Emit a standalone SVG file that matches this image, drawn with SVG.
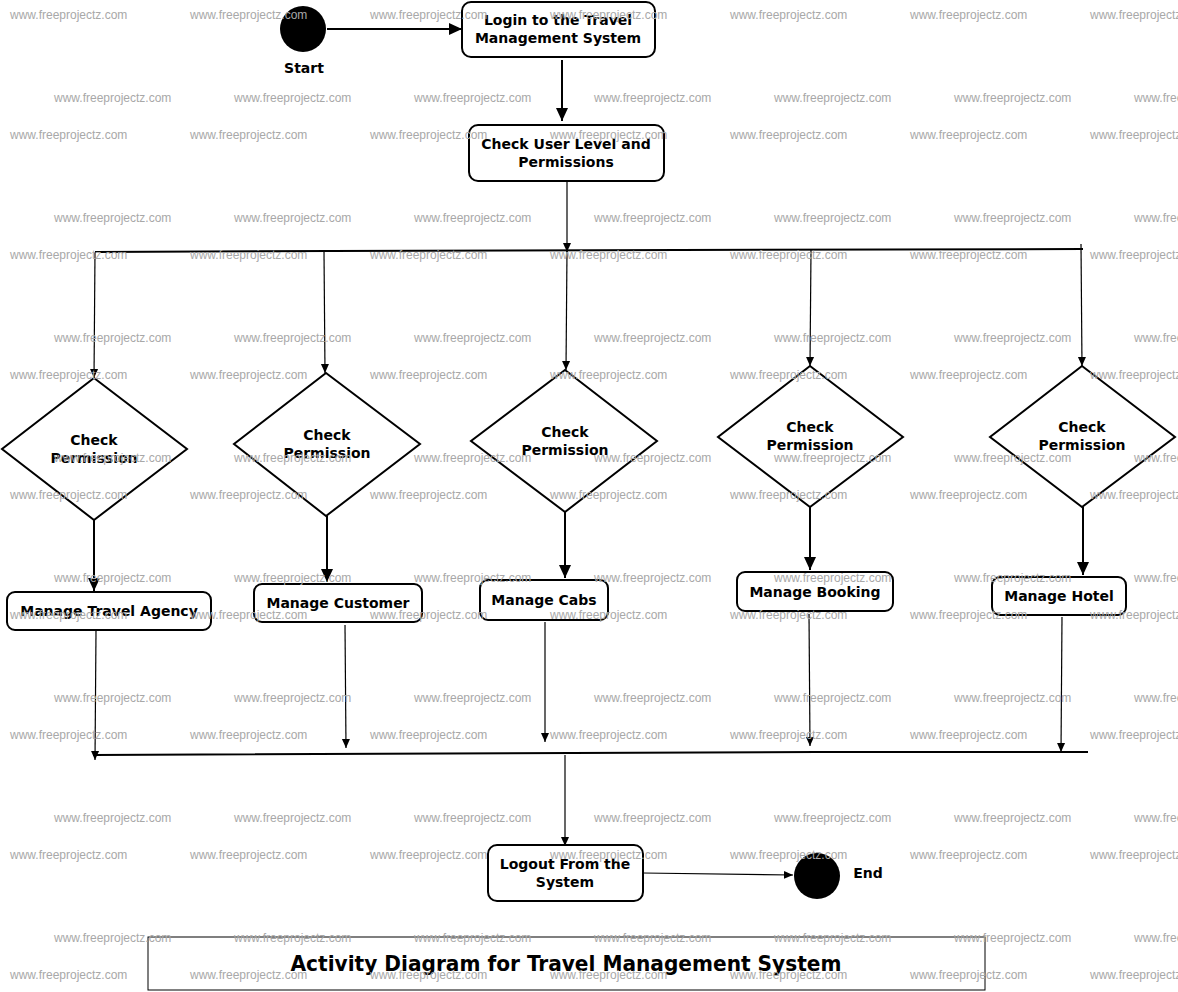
<svg xmlns="http://www.w3.org/2000/svg" width="1178" height="992" viewBox="0 0 1178 992">
<style>
.node{fill:#fff;stroke:#000;stroke-width:2}
.lbl{font-family:"DejaVu Sans","Noto Sans",sans-serif;font-weight:bold;font-size:14px;fill:#000;text-anchor:middle}
.thin{stroke:#000;stroke-width:1.2;fill:none}
.thick{stroke:#000;stroke-width:2;fill:none}
.bar{stroke:#000;stroke-width:2;fill:none}
.wm{font-family:"Liberation Sans",Arial,sans-serif;font-size:12px;fill:#a8a8a8}
</style>
<defs>
<marker id="big" markerUnits="userSpaceOnUse" markerWidth="14" markerHeight="14" refX="13" refY="7" orient="auto"><path d="M0,1 L13,7 L0,13 z" fill="#000"/></marker>
<marker id="small" markerUnits="userSpaceOnUse" markerWidth="10" markerHeight="10" refX="9" refY="5" orient="auto"><path d="M0,1 L9,5 L0,9 z" fill="#000"/></marker>
</defs>
<rect width="1178" height="992" fill="#fff"/>

<g id="connectors">
<line class="thick" x1="327" y1="29" x2="462" y2="29" marker-end="url(#big)"/>
<line class="thick" x1="562" y1="60" x2="562" y2="121" marker-end="url(#big)"/>
<line class="thin" x1="567" y1="182" x2="567" y2="252" marker-end="url(#small)"/>
<polyline class="bar" points="95,252 330,251 1083,249"/>
<line class="thin" x1="95" y1="252" x2="94" y2="378" marker-end="url(#small)"/>
<line class="thin" x1="324" y1="252" x2="325" y2="373" marker-end="url(#small)"/>
<line class="thin" x1="567" y1="251" x2="566" y2="370" marker-end="url(#small)"/>
<line class="thin" x1="811" y1="250" x2="810" y2="366" marker-end="url(#small)"/>
<line class="thin" x1="1081" y1="244" x2="1082" y2="366" marker-end="url(#small)"/>
<line class="thick" x1="94" y1="520" x2="94" y2="591" marker-end="url(#big)"/>
<line class="thick" x1="327" y1="516" x2="327" y2="582" marker-end="url(#big)"/>
<line class="thick" x1="565" y1="512" x2="565" y2="578" marker-end="url(#big)"/>
<line class="thick" x1="810" y1="507" x2="810" y2="570" marker-end="url(#big)"/>
<line class="thick" x1="1083" y1="507" x2="1083" y2="575" marker-end="url(#big)"/>
<line class="thin" x1="96" y1="631" x2="95" y2="760" marker-end="url(#small)"/>
<line class="thin" x1="345" y1="625" x2="346" y2="748" marker-end="url(#small)"/>
<line class="thin" x1="545" y1="622" x2="545" y2="742" marker-end="url(#small)"/>
<line class="thin" x1="809" y1="614" x2="810" y2="746" marker-end="url(#small)"/>
<line class="thin" x1="1062" y1="617" x2="1061" y2="752" marker-end="url(#small)"/>
<polyline class="bar" points="93,755 817,752 1088,752"/>
<line class="thin" x1="565" y1="755" x2="565" y2="846" marker-end="url(#small)"/>
<line class="thin" x1="643" y1="873" x2="793" y2="875" marker-end="url(#small)"/>
</g>

<g id="start">
<circle cx="303" cy="29" r="23" fill="#000"/>
<text class="lbl" x="304" y="73">Start</text>
</g>
<g id="login">
<rect class="node" x="462" y="2" width="193" height="55" rx="9"/>
<text class="lbl" x="558" y="25">Login to the Travel</text>
<text class="lbl" x="558" y="43">Management System</text>
</g>
<g id="checkuser">
<rect class="node" x="469" y="125" width="195" height="56" rx="9"/>
<text class="lbl" x="566" y="149">Check User Level and</text>
<text class="lbl" x="566" y="167">Permissions</text>
</g>

<g id="d1">
<polygon class="node" points="94,378 187,449 94,520 2,449"/>
<text class="lbl" x="94" y="445">Check</text>
<text class="lbl" x="94" y="463">Permission</text>
</g>
<g id="d2">
<polygon class="node" points="326,373 420,444 326,516 234,444"/>
<text class="lbl" x="327" y="440">Check</text>
<text class="lbl" x="327" y="458">Permission</text>
</g>
<g id="d3">
<polygon class="node" points="565,370 657,441 565,512 471,441"/>
<text class="lbl" x="565" y="437">Check</text>
<text class="lbl" x="565" y="455">Permission</text>
</g>
<g id="d4">
<polygon class="node" points="810,366 903,437 810,507 718,437"/>
<text class="lbl" x="810" y="432">Check</text>
<text class="lbl" x="810" y="450">Permission</text>
</g>
<g id="d5">
<polygon class="node" points="1082,366 1175,437 1082,507 990,437"/>
<text class="lbl" x="1082" y="432">Check</text>
<text class="lbl" x="1082" y="450">Permission</text>
</g>

<g id="travelagency">
<rect class="node" x="7" y="592" width="204" height="38" rx="8"/>
<text class="lbl" x="109" y="616">Manage Travel Agency</text>
</g>
<g id="customer">
<rect class="node" x="254" y="584" width="168" height="38" rx="8"/>
<text class="lbl" x="338" y="608">Manage Customer</text>
</g>
<g id="cabs">
<rect class="node" x="480" y="580" width="128" height="40" rx="8"/>
<text class="lbl" x="544" y="605">Manage Cabs</text>
</g>
<g id="booking">
<rect class="node" x="737" y="572" width="156" height="39" rx="8"/>
<text class="lbl" x="815" y="597">Manage Booking</text>
</g>
<g id="hotel">
<rect class="node" x="992" y="577" width="134" height="38" rx="8"/>
<text class="lbl" x="1059" y="601">Manage Hotel</text>
</g>

<g id="logout">
<rect class="node" x="488" y="845" width="155" height="56" rx="9"/>
<text class="lbl" x="565" y="869">Logout From the</text>
<text class="lbl" x="565" y="887">System</text>
</g>
<g id="end">
<circle cx="817" cy="876" r="23" fill="#000"/>
<text class="lbl" x="868" y="878">End</text>
</g>

<g id="title">
<rect x="148" y="937" width="837" height="53" fill="#fff" stroke="#000" stroke-width="1"/>
<text x="566" y="971" font-family="DejaVu Sans Condensed,DejaVu Sans,sans-serif" font-weight="bold" font-size="21" text-anchor="middle" textLength="551" lengthAdjust="spacingAndGlyphs">Activity Diagram for Travel Management System</text>
</g>

<g id="watermarks" class="wm">
<text x="10" y="19">www.freeprojectz.com</text><text x="190" y="19">www.freeprojectz.com</text><text x="370" y="19">www.freeprojectz.com</text><text x="550" y="19">www.freeprojectz.com</text><text x="730" y="19">www.freeprojectz.com</text><text x="910" y="19">www.freeprojectz.com</text><text x="1090" y="19">www.freeprojectz.com</text>
<text x="54" y="102">www.freeprojectz.com</text><text x="234" y="102">www.freeprojectz.com</text><text x="414" y="102">www.freeprojectz.com</text><text x="594" y="102">www.freeprojectz.com</text><text x="774" y="102">www.freeprojectz.com</text><text x="954" y="102">www.freeprojectz.com</text><text x="1134" y="102">www.freeprojectz.com</text>
<text x="10" y="139">www.freeprojectz.com</text><text x="190" y="139">www.freeprojectz.com</text><text x="370" y="139">www.freeprojectz.com</text><text x="550" y="139">www.freeprojectz.com</text><text x="730" y="139">www.freeprojectz.com</text><text x="910" y="139">www.freeprojectz.com</text><text x="1090" y="139">www.freeprojectz.com</text>
<text x="54" y="222">www.freeprojectz.com</text><text x="234" y="222">www.freeprojectz.com</text><text x="414" y="222">www.freeprojectz.com</text><text x="594" y="222">www.freeprojectz.com</text><text x="774" y="222">www.freeprojectz.com</text><text x="954" y="222">www.freeprojectz.com</text><text x="1134" y="222">www.freeprojectz.com</text>
<text x="10" y="259">www.freeprojectz.com</text><text x="190" y="259">www.freeprojectz.com</text><text x="370" y="259">www.freeprojectz.com</text><text x="550" y="259">www.freeprojectz.com</text><text x="730" y="259">www.freeprojectz.com</text><text x="910" y="259">www.freeprojectz.com</text><text x="1090" y="259">www.freeprojectz.com</text>
<text x="54" y="342">www.freeprojectz.com</text><text x="234" y="342">www.freeprojectz.com</text><text x="414" y="342">www.freeprojectz.com</text><text x="594" y="342">www.freeprojectz.com</text><text x="774" y="342">www.freeprojectz.com</text><text x="954" y="342">www.freeprojectz.com</text><text x="1134" y="342">www.freeprojectz.com</text>
<text x="10" y="379">www.freeprojectz.com</text><text x="190" y="379">www.freeprojectz.com</text><text x="370" y="379">www.freeprojectz.com</text><text x="550" y="379">www.freeprojectz.com</text><text x="730" y="379">www.freeprojectz.com</text><text x="910" y="379">www.freeprojectz.com</text><text x="1090" y="379">www.freeprojectz.com</text>
<text x="54" y="462">www.freeprojectz.com</text><text x="234" y="462">www.freeprojectz.com</text><text x="414" y="462">www.freeprojectz.com</text><text x="594" y="462">www.freeprojectz.com</text><text x="774" y="462">www.freeprojectz.com</text><text x="954" y="462">www.freeprojectz.com</text><text x="1134" y="462">www.freeprojectz.com</text>
<text x="10" y="499">www.freeprojectz.com</text><text x="190" y="499">www.freeprojectz.com</text><text x="370" y="499">www.freeprojectz.com</text><text x="550" y="499">www.freeprojectz.com</text><text x="730" y="499">www.freeprojectz.com</text><text x="910" y="499">www.freeprojectz.com</text><text x="1090" y="499">www.freeprojectz.com</text>
<text x="54" y="582">www.freeprojectz.com</text><text x="234" y="582">www.freeprojectz.com</text><text x="414" y="582">www.freeprojectz.com</text><text x="594" y="582">www.freeprojectz.com</text><text x="774" y="582">www.freeprojectz.com</text><text x="954" y="582">www.freeprojectz.com</text><text x="1134" y="582">www.freeprojectz.com</text>
<text x="10" y="619">www.freeprojectz.com</text><text x="190" y="619">www.freeprojectz.com</text><text x="370" y="619">www.freeprojectz.com</text><text x="550" y="619">www.freeprojectz.com</text><text x="730" y="619">www.freeprojectz.com</text><text x="910" y="619">www.freeprojectz.com</text><text x="1090" y="619">www.freeprojectz.com</text>
<text x="54" y="702">www.freeprojectz.com</text><text x="234" y="702">www.freeprojectz.com</text><text x="414" y="702">www.freeprojectz.com</text><text x="594" y="702">www.freeprojectz.com</text><text x="774" y="702">www.freeprojectz.com</text><text x="954" y="702">www.freeprojectz.com</text><text x="1134" y="702">www.freeprojectz.com</text>
<text x="10" y="739">www.freeprojectz.com</text><text x="190" y="739">www.freeprojectz.com</text><text x="370" y="739">www.freeprojectz.com</text><text x="550" y="739">www.freeprojectz.com</text><text x="730" y="739">www.freeprojectz.com</text><text x="910" y="739">www.freeprojectz.com</text><text x="1090" y="739">www.freeprojectz.com</text>
<text x="54" y="822">www.freeprojectz.com</text><text x="234" y="822">www.freeprojectz.com</text><text x="414" y="822">www.freeprojectz.com</text><text x="594" y="822">www.freeprojectz.com</text><text x="774" y="822">www.freeprojectz.com</text><text x="954" y="822">www.freeprojectz.com</text><text x="1134" y="822">www.freeprojectz.com</text>
<text x="10" y="859">www.freeprojectz.com</text><text x="190" y="859">www.freeprojectz.com</text><text x="370" y="859">www.freeprojectz.com</text><text x="550" y="859">www.freeprojectz.com</text><text x="730" y="859">www.freeprojectz.com</text><text x="910" y="859">www.freeprojectz.com</text><text x="1090" y="859">www.freeprojectz.com</text>
<text x="54" y="942">www.freeprojectz.com</text><text x="234" y="942">www.freeprojectz.com</text><text x="414" y="942">www.freeprojectz.com</text><text x="594" y="942">www.freeprojectz.com</text><text x="774" y="942">www.freeprojectz.com</text><text x="954" y="942">www.freeprojectz.com</text><text x="1134" y="942">www.freeprojectz.com</text>
<text x="10" y="979">www.freeprojectz.com</text><text x="190" y="979">www.freeprojectz.com</text><text x="370" y="979">www.freeprojectz.com</text><text x="550" y="979">www.freeprojectz.com</text><text x="730" y="979">www.freeprojectz.com</text><text x="910" y="979">www.freeprojectz.com</text><text x="1090" y="979">www.freeprojectz.com</text>
</g>
</svg>
